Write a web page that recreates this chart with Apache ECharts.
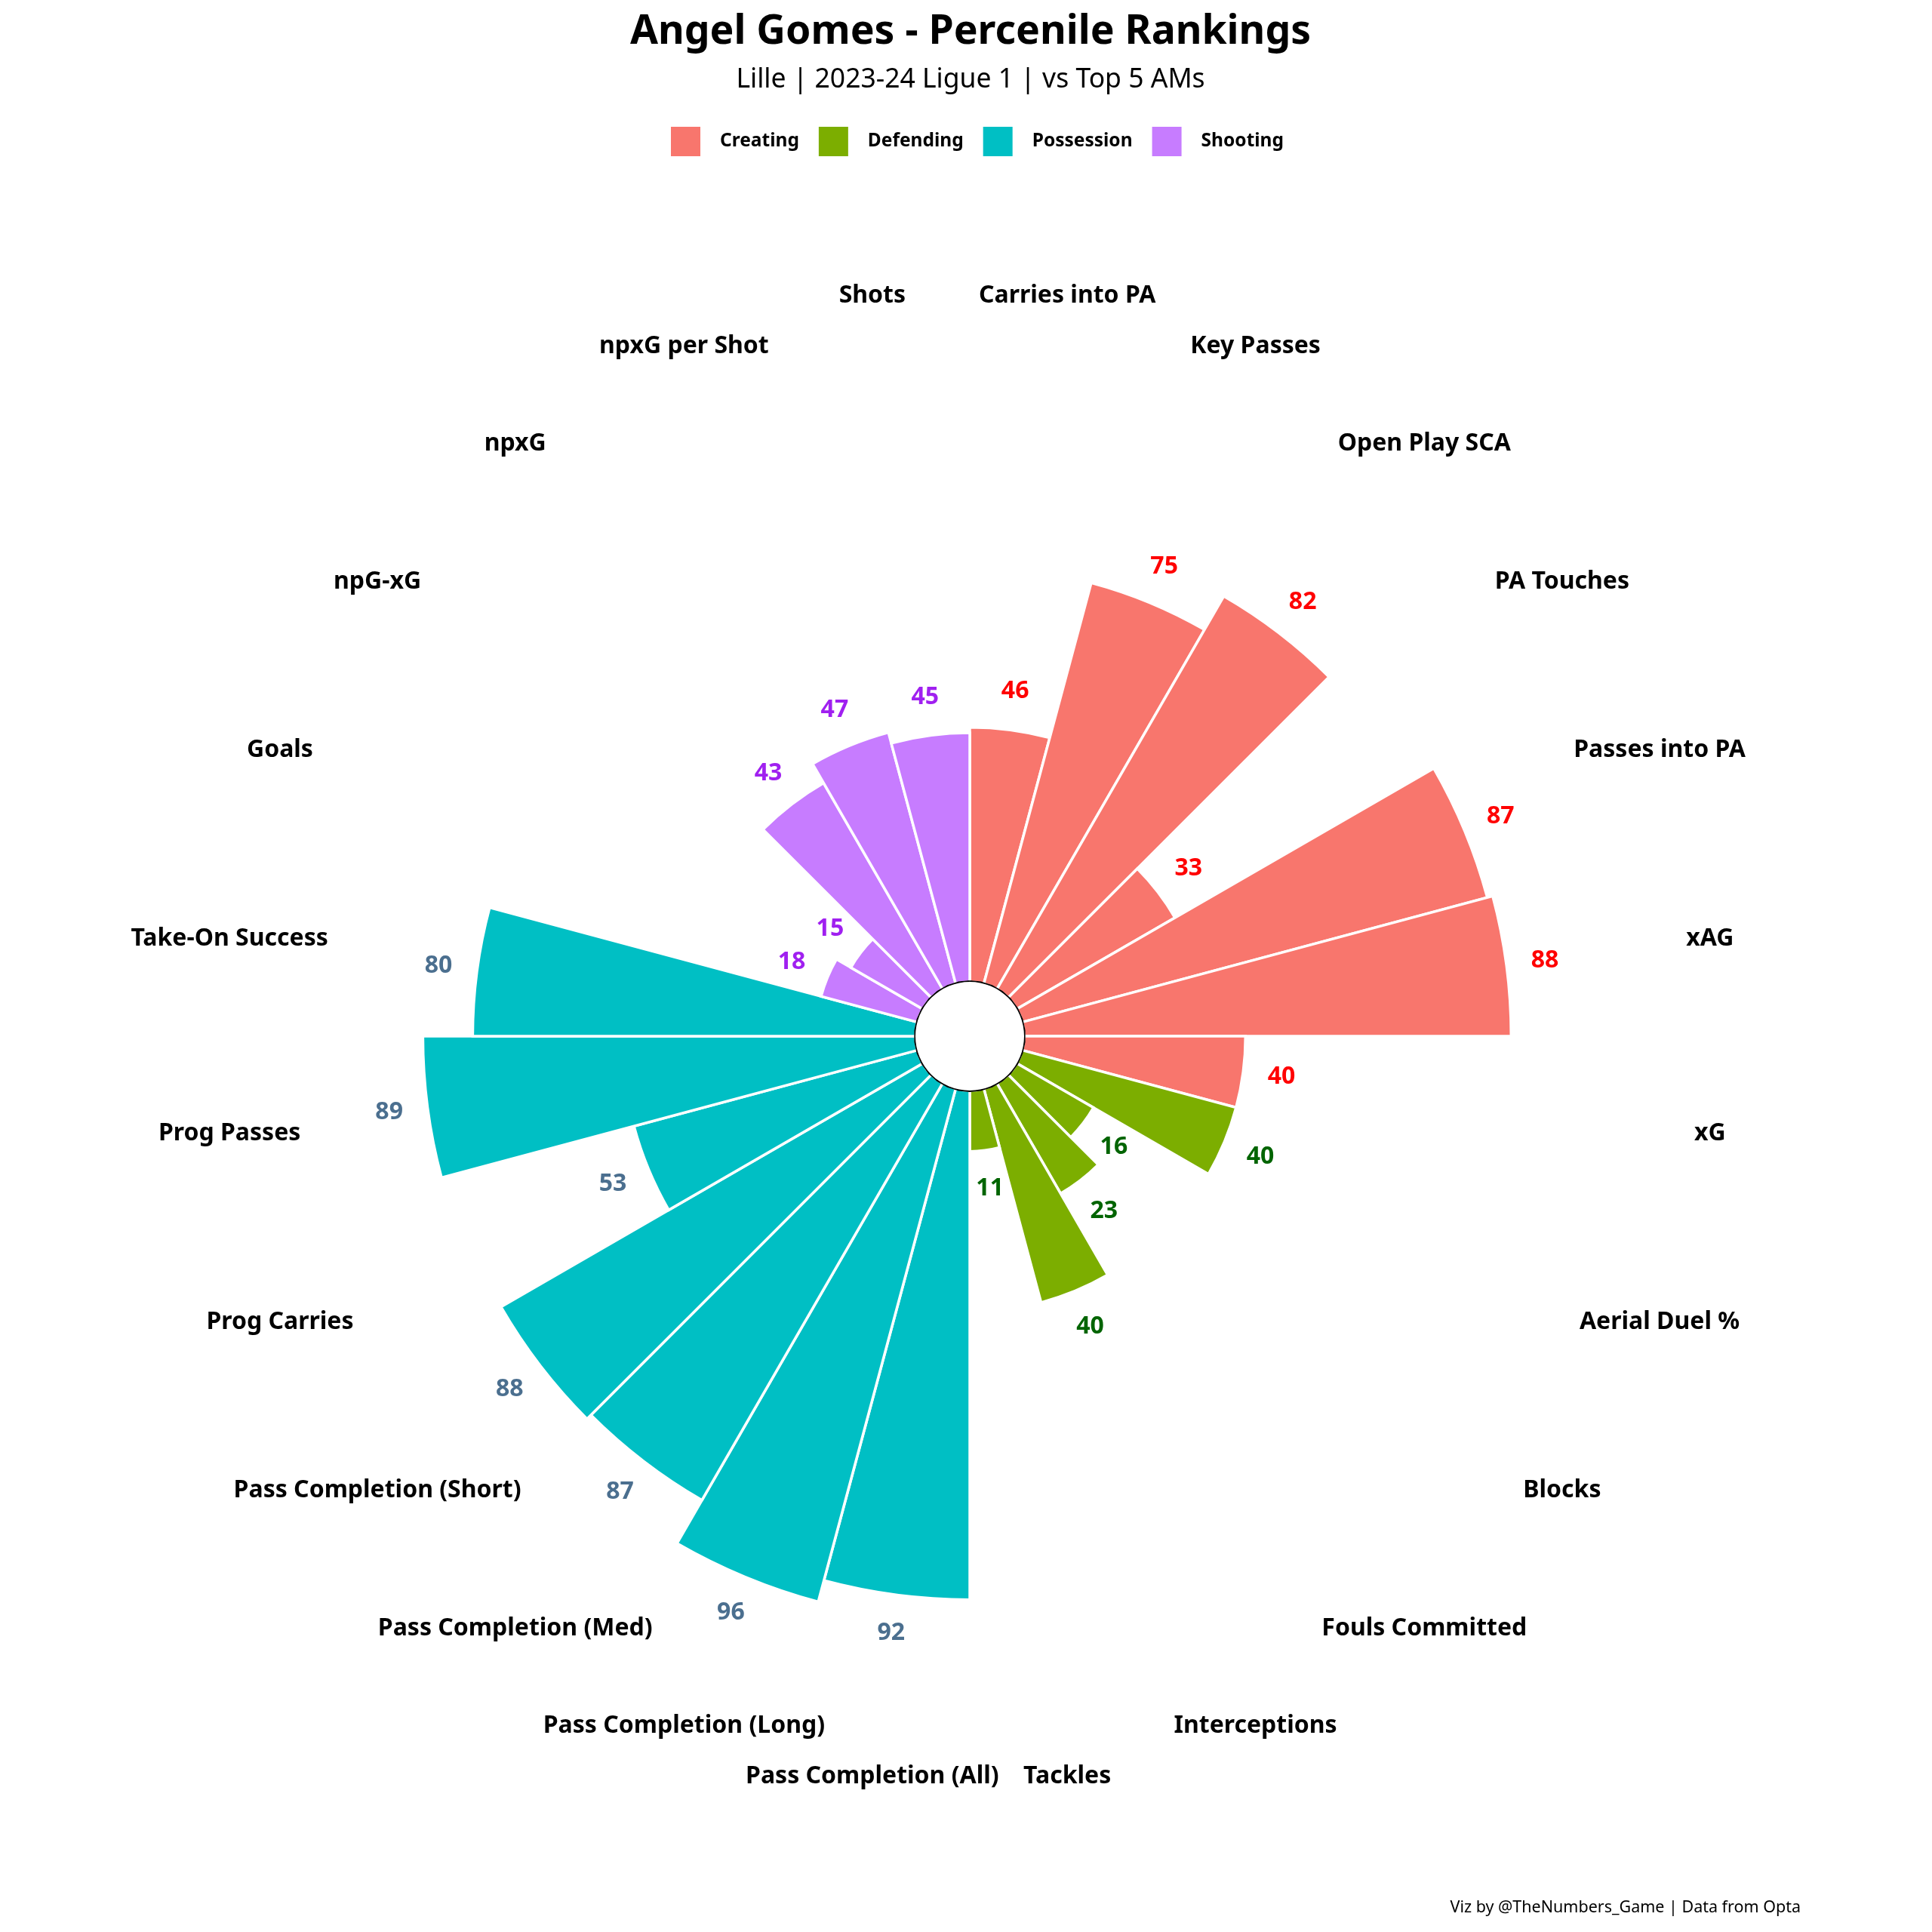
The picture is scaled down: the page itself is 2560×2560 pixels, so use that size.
<!DOCTYPE html>
<html>
<head>
<meta charset="utf-8">
<script src="https://cdn.jsdelivr.net/npm/echarts@6/dist/echarts.min.js"></script>
<style>
  html, body { margin: 0; padding: 0; background: #fff; }
  #chart { width: 2560px; height: 2560px; }
</style>
</head>
<body>
<div id="chart"></div>
<script>
// percentile data, clockwise from the top
var creatingCats = ['Carries into PA', 'Key Passes', 'Open Play SCA', 'PA Touches', 'Passes into PA', 'xAG', 'xG'];
var creatingVals = [46, 75, 82, 33, 87, 88, 40];
var defendingCats = ['Aerial Duel %', 'Blocks', 'Fouls Committed', 'Interceptions', 'Tackles'];
var defendingVals = [40, 16, 23, 40, 11];
var possessionCats = ['Pass Completion (All)', 'Pass Completion (Long)', 'Pass Completion (Med)',
    'Pass Completion (Short)', 'Prog Carries', 'Prog Passes', 'Take-On Success'];
var possessionVals = [92, 96, 87, 88, 53, 89, 80];
var shootingCats = ['Goals', 'npG-xG', 'npxG', 'npxG per Shot', 'Shots'];
var shootingVals = [18, 15, 43, 47, 45];

var groups = [
    { name: 'Creating', cats: creatingCats, vals: creatingVals, color: '#F8766D', text: '#FF0000' },
    { name: 'Defending', cats: defendingCats, vals: defendingVals, color: '#7CAE00', text: '#006400' },
    { name: 'Possession', cats: possessionCats, vals: possessionVals, color: '#00BFC4', text: '#4B6F8F' },
    { name: 'Shooting', cats: shootingCats, vals: shootingVals, color: '#C77CFF', text: '#A020F0' }
];

var categories = [];
groups.forEach(function (g) { categories = categories.concat(g.cats); });

var FONT = '"Noto Sans", "DejaVu Sans", sans-serif';
var CX = 1285, CY = 1373;
var R0 = 72, RMAX = 130, PX_PER_UNIT = 7.333;
var R1 = R0 + RMAX * PX_PER_UNIT;
var LABEL_R = 125.1;   // where the metric names sit
var VALUE_OFFSET = 7;  // value labels sit this far past the bar

var series = [];
var valueLabels = [];
var offset = 0;
groups.forEach(function (g) {
    var data = categories.map(function () { return null; });
    g.vals.forEach(function (v, i) {
        data[offset + i] = v;
        valueLabels.push({
            value: [v + VALUE_OFFSET, offset + i],
            label: { color: g.text, formatter: String(v) }
        });
    });
    offset += g.cats.length;
    series.push({
        name: g.name,
        type: 'bar',
        coordinateSystem: 'polar',
        polarIndex: 0,
        barCategoryGap: '0%',
        barGap: '-100%',
        itemStyle: { color: g.color, borderColor: '#fff', borderWidth: 3.5 },
        data: data,
        z: 2
    });
});

// metric names
series.push({
    type: 'scatter',
    coordinateSystem: 'polar',
    polarIndex: 0,
    symbolSize: 1,
    itemStyle: { color: 'rgba(0,0,0,0)', opacity: 1 },
    label: {
        show: true, position: 'inside',
        formatter: function (p) { return categories[p.value[1]]; },
        fontFamily: FONT, fontSize: 32, fontWeight: 'bold', color: '#000'
    },
    data: categories.map(function (c, i) { return [LABEL_R, i]; }),
    z: 5
});

// percentile numbers
series.push({
    type: 'scatter',
    coordinateSystem: 'polar',
    polarIndex: 0,
    symbolSize: 1,
    itemStyle: { color: 'rgba(0,0,0,0)', opacity: 1 },
    label: {
        show: true, position: 'inside',
        fontFamily: FONT, fontSize: 32, fontWeight: 'bold'
    },
    data: valueLabels,
    z: 5
});

// centre circle outline
var ring = [];
for (var a = 0; a <= 360; a += 12) ring.push([0, a]);
series.push({
    type: 'line',
    coordinateSystem: 'polar',
    polarIndex: 1,
    symbol: 'none',
    lineStyle: { color: '#000', width: 4 },
    data: ring,
    z: 10
});

var hidden = {
    axisLine: { show: false }, axisTick: { show: false },
    axisLabel: { show: false }, splitLine: { show: false }, splitArea: { show: false }
};

var option = {
    animation: false,
    backgroundColor: '#fff',
    title: {
        text: 'Angel Gomes - Percenile Rankings',
        subtext: 'Lille | 2023-24 Ligue 1 | vs Top 5 AMs',
        left: 1281, top: 6, textAlign: 'center', itemGap: 10,
        textStyle: { fontFamily: FONT, fontSize: 53.5, fontWeight: 'bold', color: '#000', lineHeight: 64 },
        subtextStyle: { fontFamily: FONT, fontSize: 35.5, color: '#000', lineHeight: 42 }
    },
    legend: {
        data: ['Creating', 'Defending', 'Possession', 'Shooting'],
        left: 882, top: 161,
        icon: 'rect', itemWidth: 41, itemHeight: 41, itemGap: 24,
        textStyle: { fontFamily: FONT, fontSize: 24.5, fontWeight: 'bold', color: '#000', padding: [0, 0, 0, 20] }
    },
    polar: [
        { center: [CX, CY], radius: [R0, R1] },
        { center: [CX, CY], radius: [R0, R1] }
    ],
    angleAxis: [
        Object.assign({ polarIndex: 0, type: 'category', data: categories, startAngle: 90, clockwise: true, boundaryGap: true }, hidden),
        Object.assign({ polarIndex: 1, type: 'value', min: 0, max: 360, startAngle: 90, clockwise: true }, hidden)
    ],
    radiusAxis: [
        Object.assign({ polarIndex: 0, type: 'value', min: 0, max: RMAX }, hidden),
        Object.assign({ polarIndex: 1, type: 'value', min: 0, max: RMAX }, hidden)
    ],
    graphic: [{
        type: 'text',
        x: 2386, y: 2528,
        style: {
            text: 'Viz by @TheNumbers_Game | Data from Opta',
            font: '21.5px ' + FONT, fill: '#000',
            textAlign: 'right', textVerticalAlign: 'middle'
        }
    }],
    series: series
};

var chart = echarts.init(document.getElementById('chart'));
chart.setOption(option);
</script>
</body>
</html>
